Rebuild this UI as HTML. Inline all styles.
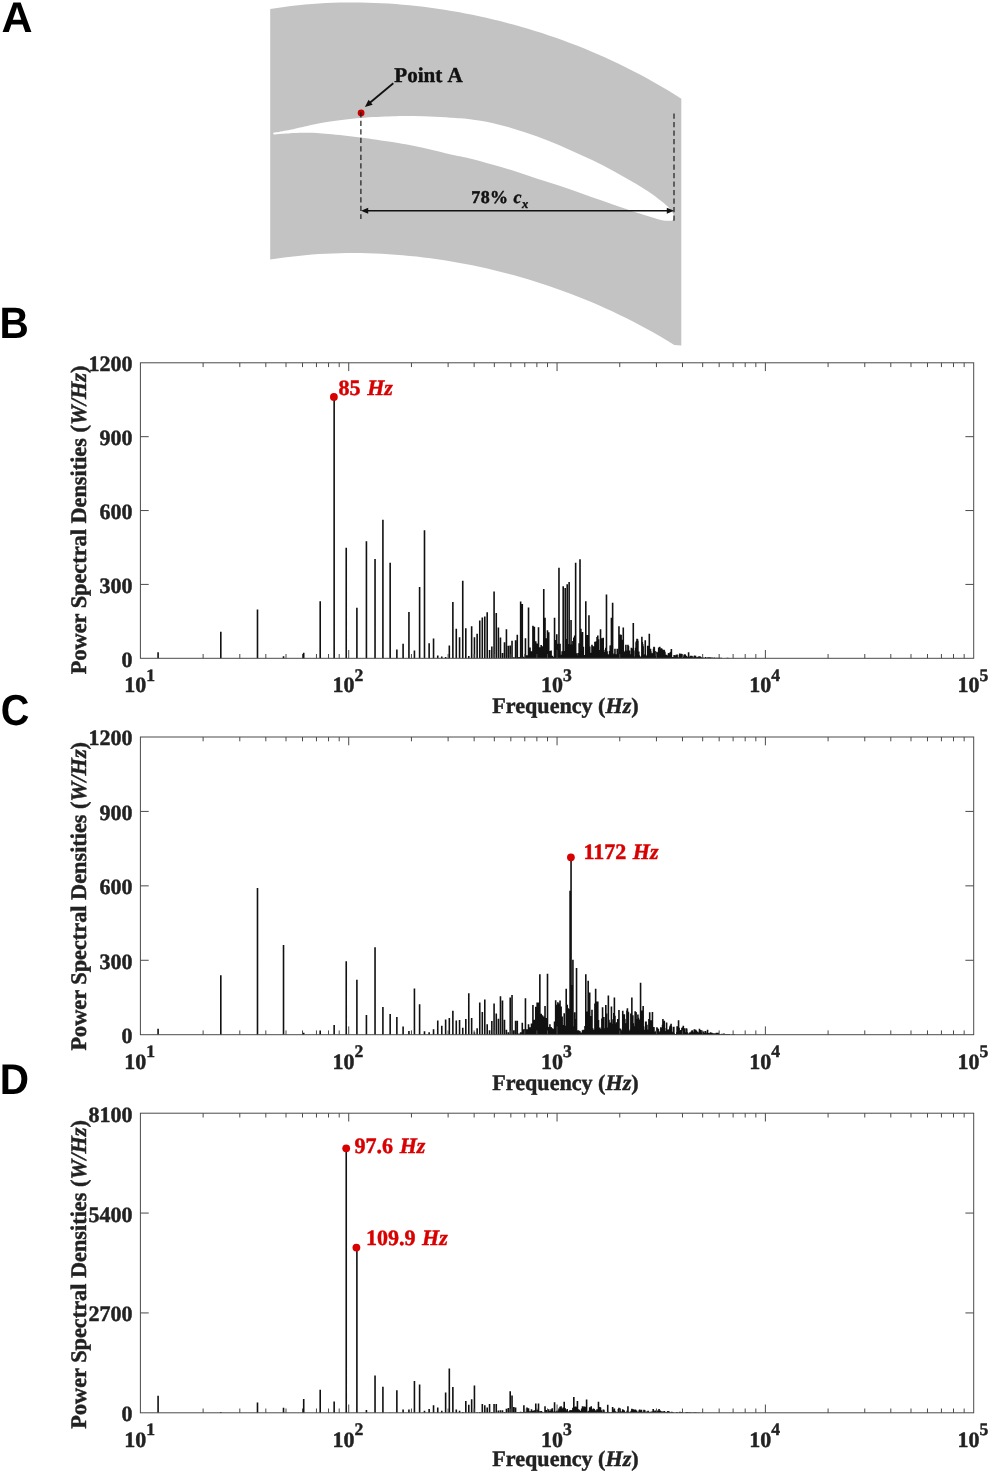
<!DOCTYPE html>
<html lang="en">
<head>
<meta charset="utf-8">
<title>Figure</title>
<style>
html,body{margin:0;padding:0;background:#fff;}
body{width:991px;height:1473px;overflow:hidden;}
svg{display:block;}
text{text-rendering:geometricPrecision;}
.s{font-family:"Liberation Serif","Times New Roman",Times,serif;font-weight:bold;stroke-width:0.45px;stroke-linejoin:round;}
.k{fill:#222;stroke:#222;}
.r{fill:#d80000;stroke:#d80000;}
.b{fill:#111;stroke:#111;}
.L{font-family:"Liberation Sans",Arial,Helvetica,sans-serif;font-weight:bold;fill:#000;}
</style>
</head>
<body>
<svg width="991" height="1473" viewBox="0 0 991 1473">
<rect width="991" height="1473" fill="#fff"/>
<text class="L" transform="translate(1.6 32.2)" font-size="43">A</text>
<path d="M270.2 9.0 L277.2 7.9 L284.1 7.0 L291.1 6.1 L298.1 5.3 L305.0 4.6 L312.0 4.0 L319.0 3.5 L325.9 3.1 L332.9 2.8 L339.9 2.6 L346.8 2.5 L353.8 2.5 L360.8 2.5 L367.7 2.7 L374.7 2.9 L381.7 3.2 L388.7 3.6 L395.6 4.1 L402.6 4.7 L409.6 5.3 L416.5 6.0 L423.5 6.8 L430.5 7.7 L437.4 8.7 L444.4 9.7 L451.4 10.9 L458.3 12.1 L465.3 13.4 L472.3 14.7 L479.2 16.2 L486.2 17.7 L493.2 19.4 L500.1 21.1 L507.1 22.9 L514.1 24.7 L521.0 26.7 L528.0 28.7 L535.0 30.9 L541.9 33.1 L548.9 35.4 L555.9 37.8 L562.8 40.3 L569.8 42.9 L576.8 45.6 L583.8 48.3 L590.7 51.2 L597.7 54.2 L604.7 57.3 L611.6 60.5 L618.6 63.8 L625.6 67.2 L632.5 70.7 L639.5 74.3 L646.5 78.1 L653.4 82.0 L660.4 86.0 L667.4 90.1 L674.3 94.3 L681.3 98.7 L681.3 345.5 L674.3 344.9 L667.4 340.7 L660.4 336.6 L653.4 332.6 L646.5 328.7 L639.5 324.9 L632.5 321.3 L625.6 317.8 L618.6 314.4 L611.6 311.1 L604.7 307.9 L597.7 304.8 L590.7 301.8 L583.8 298.9 L576.8 296.2 L569.8 293.5 L562.8 290.9 L555.9 288.4 L548.9 286.0 L541.9 283.7 L535.0 281.5 L528.0 279.3 L521.0 277.3 L514.1 275.3 L507.1 273.5 L500.1 271.7 L493.2 270.0 L486.2 268.3 L479.2 266.8 L472.3 265.3 L465.3 264.0 L458.3 262.7 L451.4 261.5 L444.4 260.3 L437.4 259.3 L430.5 258.3 L423.5 257.4 L416.5 256.6 L409.6 255.9 L402.6 255.3 L395.6 254.7 L388.7 254.2 L381.7 253.8 L374.7 253.5 L367.7 253.3 L360.8 253.1 L353.8 253.1 L346.8 253.1 L339.9 253.2 L332.9 253.4 L325.9 253.7 L319.0 254.1 L312.0 254.6 L305.0 255.2 L298.1 255.9 L291.1 256.7 L284.1 257.6 L277.2 258.5 L270.2 259.6 Z" fill="#c3c3c3"/>
<path d="M273.20 133.40C273.20 133.08 273.23 132.75 274.20 132.50C275.17 132.25 277.00 132.22 279.00 131.90C281.00 131.58 281.47 131.60 286.20 130.60C290.93 129.60 300.33 127.37 307.40 125.90C314.47 124.43 319.77 123.12 328.60 121.80C337.43 120.48 349.82 118.92 360.40 118.00C370.98 117.08 383.28 116.62 392.10 116.30C400.92 115.98 406.23 116.03 413.30 116.10C420.37 116.17 427.43 116.38 434.50 116.70C441.57 117.02 449.78 117.58 455.70 118.00C461.62 118.42 463.92 118.38 470.00 119.20C476.08 120.02 484.80 121.28 492.20 122.90C499.60 124.52 507.00 126.68 514.40 128.90C521.80 131.12 529.20 133.50 536.60 136.20C544.00 138.90 551.40 141.95 558.80 145.10C566.20 148.25 573.60 151.70 581.00 155.10C588.40 158.50 595.80 161.73 603.20 165.50C610.60 169.27 618.00 173.45 625.40 177.70C632.80 181.95 640.93 186.55 647.60 191.00C654.27 195.45 661.47 201.13 665.40 204.40C669.33 207.67 669.85 208.90 671.20 210.60C672.55 212.30 673.03 213.50 673.50 214.60C673.97 215.70 674.08 216.35 674.00 217.20C673.92 218.05 673.62 219.10 673.00 219.70C672.38 220.30 672.32 220.77 670.30 220.80C668.28 220.83 664.68 220.68 660.90 219.90C657.12 219.12 653.52 217.95 647.60 216.10C641.68 214.25 632.80 211.32 625.40 208.80C618.00 206.28 610.60 203.60 603.20 201.00C595.80 198.40 588.40 195.78 581.00 193.20C573.60 190.62 566.20 187.97 558.80 185.50C551.40 183.03 544.00 180.82 536.60 178.40C529.20 175.98 521.80 173.33 514.40 171.00C507.00 168.67 499.60 166.50 492.20 164.40C484.80 162.30 476.08 159.88 470.00 158.40C463.92 156.92 461.62 156.83 455.70 155.50C449.78 154.17 441.57 152.02 434.50 150.40C427.43 148.78 420.37 147.20 413.30 145.80C406.23 144.40 400.92 143.40 392.10 142.00C383.28 140.60 370.98 138.75 360.40 137.40C349.82 136.05 337.43 134.68 328.60 133.90C319.77 133.12 313.00 132.87 307.40 132.70C301.80 132.53 298.53 132.77 295.00 132.90C291.47 133.03 288.87 133.30 286.20 133.50C283.53 133.70 281.00 133.95 279.00 134.10C277.00 134.25 275.17 134.52 274.20 134.40C273.23 134.28 273.20 133.72 273.20 133.40Z" fill="#fff"/>
<circle cx="361.1" cy="112.9" r="3.4" fill="#c40000"/>
<path d="M360.9 112.2 V219 M674.0 113.4 V220.8" stroke="#1c1c1c" stroke-width="1.2" stroke-dasharray="5.3 3.2" fill="none"/>
<path d="M366 210.7 H669" stroke="#111" stroke-width="1.6" fill="none"/>
<path d="M361.0 210.7 l7.2 -3 v6 z M674.0 210.7 l-7.2 -3 v6 z" fill="#111"/>
<path d="M393.3 83.3 L369.9 102.8" stroke="#111" stroke-width="1.8" fill="none"/>
<path d="M364.9 107.0 L368.6 99.7 L372.7 104.7 Z" fill="#111"/>
<text class="s b" x="394.3" y="81.8" font-size="21.1" word-spacing="1.1">Point A</text>
<text class="s b" x="471.2" y="203.3" font-size="18" letter-spacing="0.45">78% <tspan font-style="italic">c</tspan><tspan font-style="italic" font-size="12.5" dy="4.6">x</tspan></text>
<path d="M158.09 658.30V652.14M220.81 658.30V631.70M257.49 658.30V609.54M283.52 658.30V656.33M303.71 658.30V652.64M320.20 658.30V601.17M334.15 658.30V396.54M346.23 658.30V547.73M356.89 658.30V607.82M366.42 658.30V541.33M375.04 658.30V559.06M382.91 658.30V519.66M390.16 658.30V562.75M396.86 658.30V649.43M403.10 658.30V643.77M408.94 658.30V612.00M414.43 658.30V650.42M419.60 658.30V586.89M424.49 658.30V530.25M429.13 658.30V643.28M433.54 658.30V638.60M437.75 658.30V655.59M441.77 658.30V656.58M445.63 658.30V657.07M449.32 658.30V645.50M452.87 658.30V601.91M456.28 658.30V628.75M459.57 658.30V637.37M462.75 658.30V580.73M465.81 658.30V628.26M468.78 658.30V656.08M471.65 658.30V626.29M474.44 658.30V637.37M477.14 658.30V633.67M479.76 658.30V620.62M482.31 658.30V617.42M484.79 658.30V616.44M487.20 658.30V612.25M489.55 658.30V649.93M491.84 658.30V646.48M494.08 658.30V591.57M496.26 658.30V612.99M498.39 658.30V627.52M500.47 658.30V637.62M502.50 658.30V652.88M504.49 658.30V642.29M506.43 658.30V629.24M508.34 658.30V645.74M510.20 658.30V645.50M512.03 658.30V640.82M513.82 658.30V657.31M515.58 658.30V640.32M517.30 658.30V634.66M518.99 658.30V657.07M520.65 658.30V601.42M522.28 658.30V604.12M523.89 658.30V656.82M525.46 658.30V638.35M527.01 658.30V655.28M528.53 658.30V607.57M530.02 658.30V647.59M531.49 658.30V651.36M532.94 658.30V625.79M534.37 658.30V626.78M535.77 658.30V641.30M537.15 658.30V643.50M538.51 658.30V627.27M539.85 658.30V647.32M541.17 658.30V645.07M542.47 658.30V646.13M543.76 658.30V589.10M545.02 658.30V617.67M546.27 658.30V638.31M547.50 658.30V630.23M548.72 658.30V632.14M549.91 658.30V650.96M551.10 658.30V650.52M552.26 658.30V655.81M553.42 658.30V656.66M554.55 658.30V617.67M555.68 658.30V639.90M556.79 658.30V634.20M557.88 658.30V643.75M558.97 658.30V567.68M560.04 658.30V643.63M561.10 658.30V654.65M562.14 658.30V651.29M563.18 658.30V586.15M564.20 658.30V651.09M565.21 658.30V588.12M566.21 658.30V639.02M567.20 658.30V584.18M568.18 658.30V644.06M569.14 658.30V581.96M570.10 658.30V644.48M571.05 658.30V619.88M571.99 658.30V644.59M572.92 658.30V640.95M573.83 658.30V637.43M574.74 658.30V635.50M575.64 658.30V562.75M576.53 658.30V653.27M577.42 658.30V655.61M578.29 658.30V653.03M579.16 658.30V643.31M580.01 658.30V559.31M580.86 658.30V628.82M581.71 658.30V634.25M582.54 658.30V631.91M583.37 658.30V646.79M584.18 658.30V654.90M585.00 658.30V655.18M585.80 658.30V601.17M586.60 658.30V652.59M587.39 658.30V635.01M588.17 658.30V636.52M588.95 658.30V615.21M589.72 658.30V646.56M590.48 658.30V652.70M591.24 658.30V655.34M591.99 658.30V644.78M592.73 658.30V647.75M593.47 658.30V646.14M594.21 658.30V650.95M594.93 658.30V641.85M595.65 658.30V648.28M596.37 658.30V641.23M597.08 658.30V637.11M597.78 658.30V635.41M598.48 658.30V639.28M599.17 658.30V652.88M599.86 658.30V650.10M600.54 658.30V629.24M601.22 658.30V643.27M601.89 658.30V638.19M602.56 658.30V649.37M603.23 658.30V637.77M603.88 658.30V651.98M604.54 658.30V656.06M605.19 658.30V649.79M605.83 658.30V647.83M606.47 658.30V594.52M607.10 658.30V651.24M607.73 658.30V654.04M608.36 658.30V654.63M608.98 658.30V655.09M609.60 658.30V651.04M610.21 658.30V645.46M610.82 658.30V645.20M611.43 658.30V617.67M612.03 658.30V652.30M612.63 658.30V602.65M613.22 658.30V654.39M613.81 658.30V655.36M614.39 658.30V653.44M614.98 658.30V648.64M615.55 658.30V654.44M616.13 658.30V654.17M616.70 658.30V656.26M617.27 658.30V648.78M617.83 658.30V654.17M618.39 658.30V653.48M618.95 658.30V626.29M619.50 658.30V649.44M620.05 658.30V635.45M620.60 658.30V634.58M621.14 658.30V634.89M621.68 658.30V648.85M622.22 658.30V640.88M622.75 658.30V639.80M623.28 658.30V627.52M623.81 658.30V652.52M624.33 658.30V651.82M624.86 658.30V654.56M625.37 658.30V650.79M625.89 658.30V644.68M626.40 658.30V650.58M626.91 658.30V656.21M627.42 658.30V656.37M627.92 658.30V644.64M628.42 658.30V645.97M628.92 658.30V653.93M629.42 658.30V650.43M629.91 658.30V654.24M630.40 658.30V656.35M630.89 658.30V657.01M631.37 658.30V647.78M631.86 658.30V648.54M632.34 658.30V653.88M632.81 658.30V654.38M633.29 658.30V623.09M633.76 658.30V657.03M634.23 658.30V656.41M634.70 658.30V657.18M635.16 658.30V650.56M635.63 658.30V647.83M636.09 658.30V642.18M636.55 658.30V641.06M637.00 658.30V638.77M637.46 658.30V638.96M637.91 658.30V640.85M638.36 658.30V652.09M638.80 658.30V651.61M639.25 658.30V655.15M639.69 658.30V656.66M640.13 658.30V656.55M640.57 658.30V657.09M641.00 658.30V656.46M641.44 658.30V657.24M641.87 658.30V636.63M642.30 658.30V642.04M642.73 658.30V644.09M643.15 658.30V646.24M643.58 658.30V656.65M644.00 658.30V655.40M644.42 658.30V655.36M644.84 658.30V654.26M645.25 658.30V640.32M645.67 658.30V656.70M646.08 658.30V656.38M646.49 658.30V656.95M646.90 658.30V655.78M647.30 658.30V654.79M647.71 658.30V645.72M648.11 658.30V653.41M648.51 658.30V654.91M648.91 658.30V652.67M649.31 658.30V633.67M649.71 658.30V649.73M650.10 658.30V652.27M650.49 658.30V648.71M650.88 658.30V651.19M651.27 658.30V653.22M651.66 658.30V656.37M652.05 658.30V655.81M652.43 658.30V654.14M652.81 658.30V653.32M653.19 658.30V652.65M653.57 658.30V648.76M653.95 658.30V646.64M654.33 658.30V647.30M654.70 658.30V654.62M655.07 658.30V651.02M655.45 658.30V656.85M655.82 658.30V656.78M656.18 658.30V656.97M656.55 658.30V656.05M656.92 658.30V651.79M657.28 658.30V656.31M657.64 658.30V655.91M658.01 658.30V655.91M658.36 658.30V652.75M658.72 658.30V647.47M659.08 658.30V650.52M659.44 658.30V654.20M659.79 658.30V646.73M660.14 658.30V655.95M660.49 658.30V652.45M660.84 658.30V650.33M661.19 658.30V648.84M661.54 658.30V648.26M661.89 658.30V648.90M662.23 658.30V652.52M662.57 658.30V655.29M662.92 658.30V656.29M663.26 658.30V649.74M663.60 658.30V654.79M663.93 658.30V649.86M664.27 658.30V650.30M664.61 658.30V651.61M664.94 658.30V652.30M665.27 658.30V656.96M665.61 658.30V655.30M665.94 658.30V656.71M666.27 658.30V654.82M666.60 658.30V654.84M666.92 658.30V657.61M667.25 658.30V656.10M667.57 658.30V657.16M667.90 658.30V657.80M668.22 658.30V655.57M668.54 658.30V653.06M668.86 658.30V655.35M669.18 658.30V654.51M669.50 658.30V653.20M669.82 658.30V656.71M670.13 658.30V653.41M670.45 658.30V652.12M670.76 658.30V652.54M671.07 658.30V651.71M671.38 658.30V648.94M671.69 658.30V656.96M672.00 658.30V656.97M672.31 658.30V657.37M672.62 658.30V657.09M672.92 658.30V657.59M673.23 658.30V657.65M673.53 658.30V657.72M673.84 658.30V657.47M674.14 658.30V655.12M674.44 658.30V657.00M674.74 658.30V656.96M675.04 658.30V656.13M675.34 658.30V657.43M675.63 658.30V657.46M675.93 658.30V655.20M676.23 658.30V654.80M676.52 658.30V655.46M676.81 658.30V654.69M677.11 658.30V654.46M677.40 658.30V657.29M677.69 658.30V657.59M677.98 658.30V657.73M678.27 658.30V657.76M678.84 658.30V657.80M679.13 658.30V657.20M679.41 658.30V654.99M679.70 658.30V653.54M679.98 658.30V653.76M680.26 658.30V657.29M680.54 658.30V657.73M680.82 658.30V657.30M681.10 658.30V656.69M681.38 658.30V653.86M681.66 658.30V654.18M681.94 658.30V654.77M682.21 658.30V655.26M682.49 658.30V657.82M683.31 658.30V657.89M683.58 658.30V657.10M683.85 658.30V656.62M684.12 658.30V654.71M684.39 658.30V655.37M684.66 658.30V654.30M684.93 658.30V655.62M685.20 658.30V654.47M685.46 658.30V657.33M685.73 658.30V657.14M685.99 658.30V657.05M686.26 658.30V655.81M686.52 658.30V657.23M686.78 658.30V657.54M687.05 658.30V657.83M687.31 658.30V657.94M687.57 658.30V656.82M687.83 658.30V657.08M688.09 658.30V657.31M688.34 658.30V656.39M688.60 658.30V652.14M688.86 658.30V657.11M689.11 658.30V657.65M689.37 658.30V656.67M689.62 658.30V657.49M689.88 658.30V657.61M690.13 658.30V656.79M690.38 658.30V656.88M690.63 658.30V655.84M690.89 658.30V655.69M691.14 658.30V655.88M691.39 658.30V656.54M691.63 658.30V655.73M691.88 658.30V656.47M692.13 658.30V656.36M692.38 658.30V657.60M692.62 658.30V657.79M692.87 658.30V657.71M693.11 658.30V657.92M693.84 658.30V657.45M694.09 658.30V656.49M694.33 658.30V656.26M694.57 658.30V655.59M694.81 658.30V656.88M695.05 658.30V656.42M695.29 658.30V655.69M695.53 658.30V655.64M695.76 658.30V657.10M696.00 658.30V657.74M696.24 658.30V657.85M696.47 658.30V657.89M696.71 658.30V657.86M696.94 658.30V657.24M697.41 658.30V657.69M697.64 658.30V657.91M697.88 658.30V657.26M698.11 658.30V657.10M698.34 658.30V656.83M698.57 658.30V656.56M698.80 658.30V656.52M699.03 658.30V656.49M699.26 658.30V656.71M699.49 658.30V656.30M699.71 658.30V656.59M699.94 658.30V657.44M700.17 658.30V656.51M700.39 658.30V656.63M700.62 658.30V657.71M700.84 658.30V657.74M701.07 658.30V657.28M701.29 658.30V657.88M701.51 658.30V657.51M701.74 658.30V657.49M701.96 658.30V657.84M702.84 658.30V657.88M703.06 658.30V657.58M704.15 658.30V657.91M704.37 658.30V657.85M705.44 658.30V657.71M705.65 658.30V657.01M705.86 658.30V657.68M707.96 658.30V657.29M708.17 658.30V657.28M708.38 658.30V657.80M709.61 658.30V657.57M709.81 658.30V657.18M710.02 658.30V657.57M710.22 658.30V657.56M710.42 658.30V657.74M710.62 658.30V657.77M710.82 658.30V657.77M711.02 658.30V657.46M711.22 658.30V657.89M711.62 658.30V657.89M711.82 658.30V657.73M712.02 658.30V657.45M712.22 658.30V657.66M712.42 658.30V657.95M714.18 658.30V657.46M714.57 658.30V657.74M714.76 658.30V657.80M714.95 658.30V657.93M715.72 658.30V657.86M715.91 658.30V657.87M717.23 658.30V657.87M717.79 658.30V657.75M717.97 658.30V657.85M718.16 658.30V657.86M718.53 658.30V657.76M718.71 658.30V657.89M718.90 658.30V657.80M719.08 658.30V657.81M719.45 658.30V657.79M720.36 658.30V657.92M721.26 658.30V657.79M727.32 658.30V657.93M727.49 658.30V657.87M727.65 658.30V657.87M727.82 658.30V657.92M727.99 658.30V657.88M728.15 658.30V657.94" stroke="#111" stroke-width="1.6" fill="none"/>
<rect x="140.4" y="362.8" width="833.3" height="295.5" fill="none" stroke="#4a4a4a" stroke-width="1"/>
<path d="M203.11 658.30v-4.30M203.11 362.80v4.30M239.80 658.30v-4.30M239.80 362.80v4.30M265.82 658.30v-4.30M265.82 362.80v4.30M286.01 658.30v-4.30M286.01 362.80v4.30M302.51 658.30v-4.30M302.51 362.80v4.30M316.46 658.30v-4.30M316.46 362.80v4.30M328.54 658.30v-4.30M328.54 362.80v4.30M339.19 658.30v-4.30M339.19 362.80v4.30M348.73 658.30v-8.30M348.73 362.80v8.30M411.44 658.30v-4.30M411.44 362.80v4.30M448.12 658.30v-4.30M448.12 362.80v4.30M474.15 658.30v-4.30M474.15 362.80v4.30M494.34 658.30v-4.30M494.34 362.80v4.30M510.83 658.30v-4.30M510.83 362.80v4.30M524.78 658.30v-4.30M524.78 362.80v4.30M536.86 658.30v-4.30M536.86 362.80v4.30M547.52 658.30v-4.30M547.52 362.80v4.30M557.05 658.30v-8.30M557.05 362.80v8.30M619.76 658.30v-4.30M619.76 362.80v4.30M656.45 658.30v-4.30M656.45 362.80v4.30M682.47 658.30v-4.30M682.47 362.80v4.30M702.66 658.30v-4.30M702.66 362.80v4.30M719.16 658.30v-4.30M719.16 362.80v4.30M733.11 658.30v-4.30M733.11 362.80v4.30M745.19 658.30v-4.30M745.19 362.80v4.30M755.84 658.30v-4.30M755.84 362.80v4.30M765.38 658.30v-8.30M765.38 362.80v8.30M828.09 658.30v-4.30M828.09 362.80v4.30M864.77 658.30v-4.30M864.77 362.80v4.30M890.80 658.30v-4.30M890.80 362.80v4.30M910.99 658.30v-4.30M910.99 362.80v4.30M927.48 658.30v-4.30M927.48 362.80v4.30M941.43 658.30v-4.30M941.43 362.80v4.30M953.51 658.30v-4.30M953.51 362.80v4.30M964.17 658.30v-4.30M964.17 362.80v4.30M140.40 584.42h8.3M973.70 584.42h-8.3M140.40 510.55h8.3M973.70 510.55h-8.3M140.40 436.68h8.3M973.70 436.68h-8.3" stroke="#4a4a4a" stroke-width="1" fill="none"/>
<text class="s k" x="132.6" y="666.7" text-anchor="end" font-size="22">0</text>
<text class="s k" x="132.6" y="592.8" text-anchor="end" font-size="22">300</text>
<text class="s k" x="132.6" y="518.9" text-anchor="end" font-size="22">600</text>
<text class="s k" x="132.6" y="445.1" text-anchor="end" font-size="22">900</text>
<text class="s k" x="132.6" y="371.2" text-anchor="end" font-size="22">1200</text>
<text class="s k" x="124.2" y="692.4" font-size="22">10<tspan font-size="17.6" dy="-11.5">1</tspan></text>
<text class="s k" x="332.5" y="692.4" font-size="22">10<tspan font-size="17.6" dy="-11.5">2</tspan></text>
<text class="s k" x="540.9" y="692.4" font-size="22">10<tspan font-size="17.6" dy="-11.5">3</tspan></text>
<text class="s k" x="749.2" y="692.4" font-size="22">10<tspan font-size="17.6" dy="-11.5">4</tspan></text>
<text class="s k" x="957.5" y="692.4" font-size="22">10<tspan font-size="17.6" dy="-11.5">5</tspan></text>
<text class="s k" x="565.5" y="713.3" text-anchor="middle" font-size="22.1">Frequency (<tspan font-style="italic">Hz</tspan>)</text>
<text class="s k" transform="translate(85.8 674.2) rotate(-90)" font-size="22.3">Power Spectral Densities (<tspan font-style="italic">W/Hz</tspan>)</text>
<circle cx="333.9" cy="396.9" r="3.9" fill="#d80000"/>
<text class="s r" x="338.6" y="394.5" font-size="22" word-spacing="1.1">85 <tspan font-style="italic">Hz</tspan></text>
<text class="L" transform="translate(-0.60 338.0) scale(0.922 1)" font-size="44.0">B</text>
<path d="M158.09 1034.70V1028.75M220.81 1034.70V975.16M257.49 1034.70V888.08M283.52 1034.70V944.89M303.71 1034.70V1032.72M320.20 1034.70V1030.48M334.15 1034.70V1025.02M346.23 1034.70V961.27M356.89 1034.70V979.63M366.42 1034.70V1015.10M375.04 1034.70V947.37M382.91 1034.70V1006.91M390.16 1034.70V1014.11M396.86 1034.70V1017.09M403.10 1034.70V1026.51M408.94 1034.70V1030.98M414.43 1034.70V988.56M419.60 1034.70V1004.19M424.49 1034.70V1031.23M429.13 1034.70V1032.22M433.54 1034.70V1029.24M437.75 1034.70V1020.56M441.77 1034.70V1025.77M445.63 1034.70V1019.57M449.32 1034.70V1018.08M452.87 1034.70V1010.64M456.28 1034.70V1020.56M459.57 1034.70V1020.06M462.75 1034.70V1027.75M465.81 1034.70V1019.07M468.78 1034.70V993.27M471.65 1034.70V1018.08M474.44 1034.70V1032.22M477.14 1034.70V1028.25M479.76 1034.70V1002.45M482.31 1034.70V1012.12M484.79 1034.70V999.47M487.20 1034.70V1024.28M489.55 1034.70V1030.23M491.84 1034.70V1021.06M494.08 1034.70V1003.44M496.26 1034.70V1013.61M498.39 1034.70V1018.82M500.47 1034.70V996.25M502.50 1034.70V1000.46M504.49 1034.70V1019.82M506.43 1034.70V1029.74M508.34 1034.70V1032.22M510.20 1034.70V997.49M512.03 1034.70V995.01M513.82 1034.70V1030.23M515.58 1034.70V1020.81M517.30 1034.70V1020.81M518.99 1034.70V1033.46M520.65 1034.70V1032.22M522.28 1034.70V1022.79M523.89 1034.70V1029.24M525.46 1034.70V998.23M527.01 1034.70V1029.24M528.53 1034.70V1024.28M530.02 1034.70V1027.26M531.49 1034.70V1023.54M532.94 1034.70V1004.93M534.37 1034.70V1019.82M535.77 1034.70V1006.67M537.15 1034.70V1002.48M538.51 1034.70V1002.61M539.85 1034.70V974.17M541.17 1034.70V1013.63M542.47 1034.70V1015.27M543.76 1034.70V1016.61M545.02 1034.70V1005.97M546.27 1034.70V1017.94M547.50 1034.70V973.67M548.72 1034.70V1026.92M549.91 1034.70V1024.20M551.10 1034.70V1027.09M552.26 1034.70V1028.33M553.42 1034.70V1028.82M554.55 1034.70V1021.42M555.68 1034.70V1000.20M556.79 1034.70V1004.68M557.88 1034.70V1002.24M558.97 1034.70V1003.53M560.04 1034.70V1000.46M561.10 1034.70V1006.56M562.14 1034.70V1016.45M563.18 1034.70V1024.92M564.20 1034.70V1013.23M565.21 1034.70V1025.66M566.21 1034.70V988.80M567.20 1034.70V1004.69M568.18 1034.70V1008.22M569.14 1034.70V1008.89M570.10 1034.70V890.81M571.05 1034.70V857.57M571.99 1034.70V985.08M572.92 1034.70V959.78M573.83 1034.70V1026.35M574.74 1034.70V1012.27M575.64 1034.70V1019.00M576.53 1034.70V967.97M577.42 1034.70V1030.52M578.29 1034.70V1030.17M579.16 1034.70V1030.76M580.01 1034.70V1031.19M580.86 1034.70V1032.95M581.71 1034.70V1032.38M582.54 1034.70V1030.27M583.37 1034.70V1029.83M584.18 1034.70V1030.24M585.00 1034.70V1025.96M585.80 1034.70V974.17M586.60 1034.70V1023.47M587.39 1034.70V1011.46M588.17 1034.70V980.87M588.95 1034.70V1028.80M589.72 1034.70V992.53M590.48 1034.70V1017.57M591.24 1034.70V1015.90M591.99 1034.70V1009.64M592.73 1034.70V1028.32M593.47 1034.70V1029.82M594.21 1034.70V1030.62M594.93 1034.70V1003.57M595.65 1034.70V988.80M596.37 1034.70V1001.55M597.08 1034.70V1018.24M597.78 1034.70V1001.46M598.48 1034.70V1020.10M599.17 1034.70V1030.24M599.86 1034.70V1027.47M600.54 1034.70V1031.25M601.22 1034.70V1029.12M601.89 1034.70V1018.41M602.56 1034.70V1007.18M603.23 1034.70V1023.94M603.88 1034.70V1016.90M604.54 1034.70V1028.37M605.19 1034.70V1030.81M605.83 1034.70V1004.98M606.47 1034.70V1013.53M607.10 1034.70V1027.45M607.73 1034.70V1030.46M608.36 1034.70V995.50M608.98 1034.70V1019.81M609.60 1034.70V1028.52M610.21 1034.70V1022.40M610.82 1034.70V1023.58M611.43 1034.70V1006.48M612.03 1034.70V1023.77M612.63 1034.70V1026.17M613.22 1034.70V1019.28M613.81 1034.70V1012.91M614.39 1034.70V997.49M614.98 1034.70V1015.81M615.55 1034.70V1023.68M616.13 1034.70V1026.31M616.70 1034.70V1022.14M617.27 1034.70V1022.18M617.83 1034.70V1019.04M618.39 1034.70V1028.10M618.95 1034.70V1009.89M619.50 1034.70V1029.02M620.05 1034.70V1028.52M620.60 1034.70V1028.81M621.14 1034.70V1031.12M621.68 1034.70V1030.32M622.22 1034.70V1032.43M622.75 1034.70V1010.64M623.28 1034.70V1031.62M623.81 1034.70V1027.67M624.33 1034.70V1014.22M624.86 1034.70V1018.90M625.37 1034.70V1029.61M625.89 1034.70V1023.19M626.40 1034.70V1029.24M626.91 1034.70V1010.58M627.42 1034.70V1008.16M627.92 1034.70V1011.50M628.42 1034.70V1012.13M628.92 1034.70V1030.99M629.42 1034.70V1030.78M629.91 1034.70V1030.69M630.40 1034.70V1029.42M630.89 1034.70V1013.57M631.37 1034.70V1021.81M631.86 1034.70V997.49M632.34 1034.70V1018.66M632.81 1034.70V1015.33M633.29 1034.70V1023.33M633.76 1034.70V1032.71M634.23 1034.70V1028.81M634.70 1034.70V1026.34M635.16 1034.70V1011.30M635.63 1034.70V1012.08M636.09 1034.70V1012.16M636.55 1034.70V1022.92M637.00 1034.70V1019.30M637.46 1034.70V1028.97M637.91 1034.70V1014.52M638.36 1034.70V1017.77M638.80 1034.70V1020.05M639.25 1034.70V1019.38M639.69 1034.70V1032.46M640.13 1034.70V1032.30M640.57 1034.70V982.85M641.00 1034.70V1028.88M641.44 1034.70V1016.06M641.87 1034.70V1010.40M642.30 1034.70V1015.99M642.73 1034.70V1015.77M643.15 1034.70V1005.92M643.58 1034.70V1026.45M644.00 1034.70V1029.71M644.42 1034.70V1032.73M644.84 1034.70V1029.91M645.25 1034.70V1030.31M645.67 1034.70V1021.61M646.08 1034.70V1021.57M646.49 1034.70V1028.91M646.90 1034.70V1024.82M647.30 1034.70V1029.54M647.71 1034.70V1031.60M648.11 1034.70V1030.89M648.51 1034.70V1033.26M648.91 1034.70V1018.95M649.31 1034.70V1027.60M649.71 1034.70V1012.37M650.10 1034.70V1023.47M650.49 1034.70V1022.90M650.88 1034.70V1020.15M651.27 1034.70V1021.71M651.66 1034.70V1020.15M652.05 1034.70V1026.48M652.43 1034.70V1012.12M652.81 1034.70V1031.77M653.19 1034.70V1032.94M653.57 1034.70V1027.01M653.95 1034.70V1027.37M654.33 1034.70V1031.82M654.70 1034.70V1033.19M655.07 1034.70V1033.48M655.45 1034.70V1031.65M655.82 1034.70V1032.99M656.18 1034.70V1030.94M656.55 1034.70V1030.47M656.92 1034.70V1027.33M657.28 1034.70V1028.27M657.64 1034.70V1029.93M658.01 1034.70V1032.47M658.36 1034.70V1028.84M658.72 1034.70V1032.37M659.08 1034.70V1033.16M659.44 1034.70V1033.76M659.79 1034.70V1034.02M660.14 1034.70V1031.39M660.49 1034.70V1030.98M660.84 1034.70V1027.32M661.19 1034.70V1032.93M661.54 1034.70V1030.57M661.89 1034.70V1030.75M662.23 1034.70V1027.93M662.57 1034.70V1024.76M662.92 1034.70V1019.07M663.26 1034.70V1023.62M663.60 1034.70V1031.55M663.93 1034.70V1025.23M664.27 1034.70V1020.87M664.61 1034.70V1027.89M664.94 1034.70V1032.58M665.27 1034.70V1033.79M665.61 1034.70V1032.02M665.94 1034.70V1031.52M666.27 1034.70V1030.88M666.60 1034.70V1022.56M666.92 1034.70V1029.47M667.25 1034.70V1031.12M667.57 1034.70V1029.42M667.90 1034.70V1032.89M668.22 1034.70V1033.30M668.54 1034.70V1033.25M668.86 1034.70V1031.69M669.18 1034.70V1029.17M669.50 1034.70V1031.69M669.82 1034.70V1027.24M670.13 1034.70V1025.71M670.45 1034.70V1029.10M670.76 1034.70V1025.21M671.07 1034.70V1023.80M671.38 1034.70V1026.33M671.69 1034.70V1032.34M672.00 1034.70V1033.38M672.31 1034.70V1032.78M672.62 1034.70V1033.59M672.92 1034.70V1033.36M673.23 1034.70V1031.42M673.53 1034.70V1027.35M673.84 1034.70V1026.86M674.14 1034.70V1033.13M674.44 1034.70V1033.99M674.74 1034.70V1034.06M675.04 1034.70V1033.90M675.34 1034.70V1034.25M675.63 1034.70V1034.30M675.93 1034.70V1034.16M676.23 1034.70V1034.14M676.52 1034.70V1033.93M676.81 1034.70V1032.30M677.11 1034.70V1026.35M677.40 1034.70V1028.65M677.69 1034.70V1033.29M677.98 1034.70V1034.19M678.27 1034.70V1033.22M678.55 1034.70V1020.31M678.84 1034.70V1027.45M679.13 1034.70V1027.88M679.41 1034.70V1031.26M679.70 1034.70V1033.70M679.98 1034.70V1032.87M680.26 1034.70V1031.95M680.54 1034.70V1033.31M680.82 1034.70V1029.93M681.10 1034.70V1033.70M681.38 1034.70V1034.07M681.66 1034.70V1034.10M681.94 1034.70V1027.91M682.21 1034.70V1030.59M682.49 1034.70V1027.29M682.76 1034.70V1032.67M683.04 1034.70V1030.62M683.31 1034.70V1025.77M683.58 1034.70V1033.98M683.85 1034.70V1033.55M684.12 1034.70V1028.75M684.39 1034.70V1028.31M684.66 1034.70V1028.36M684.93 1034.70V1032.28M685.20 1034.70V1032.90M685.46 1034.70V1033.86M685.73 1034.70V1032.61M685.99 1034.70V1033.79M686.26 1034.70V1032.54M686.52 1034.70V1028.35M686.78 1034.70V1029.31M687.05 1034.70V1032.17M687.31 1034.70V1032.16M687.57 1034.70V1033.33M687.83 1034.70V1033.51M688.09 1034.70V1033.70M688.34 1034.70V1033.96M688.60 1034.70V1034.27M688.86 1034.70V1034.30M689.11 1034.70V1033.45M689.37 1034.70V1033.55M689.62 1034.70V1032.86M689.88 1034.70V1032.83M690.13 1034.70V1032.32M690.38 1034.70V1033.53M690.63 1034.70V1033.51M690.89 1034.70V1033.68M691.14 1034.70V1032.91M691.39 1034.70V1031.26M691.63 1034.70V1031.84M691.88 1034.70V1031.13M692.13 1034.70V1030.26M692.38 1034.70V1030.50M692.62 1034.70V1033.12M692.87 1034.70V1032.62M693.11 1034.70V1033.71M693.36 1034.70V1034.23M693.60 1034.70V1033.99M693.84 1034.70V1033.42M694.09 1034.70V1031.90M694.33 1034.70V1029.32M694.57 1034.70V1030.72M694.81 1034.70V1029.43M695.05 1034.70V1031.32M695.29 1034.70V1033.47M695.53 1034.70V1031.53M695.76 1034.70V1029.68M696.00 1034.70V1031.99M696.24 1034.70V1030.78M696.47 1034.70V1030.79M696.71 1034.70V1034.28M696.94 1034.70V1033.89M697.18 1034.70V1032.79M697.41 1034.70V1034.05M697.64 1034.70V1031.70M697.88 1034.70V1032.67M698.11 1034.70V1033.51M698.34 1034.70V1032.68M698.57 1034.70V1033.90M698.80 1034.70V1033.85M699.03 1034.70V1033.20M699.26 1034.70V1033.09M699.49 1034.70V1028.75M699.71 1034.70V1033.84M699.94 1034.70V1033.76M700.17 1034.70V1033.83M700.39 1034.70V1032.11M700.62 1034.70V1031.30M700.84 1034.70V1030.11M701.07 1034.70V1030.56M701.29 1034.70V1034.02M701.51 1034.70V1033.91M701.74 1034.70V1032.42M701.96 1034.70V1034.09M702.18 1034.70V1033.45M702.62 1034.70V1034.34M702.84 1034.70V1033.97M703.06 1034.70V1031.92M703.28 1034.70V1031.38M703.50 1034.70V1032.70M703.72 1034.70V1034.24M704.15 1034.70V1033.90M704.37 1034.70V1034.21M704.58 1034.70V1034.19M704.80 1034.70V1033.99M705.01 1034.70V1032.91M705.23 1034.70V1031.06M705.44 1034.70V1031.88M705.65 1034.70V1031.62M705.86 1034.70V1033.11M706.08 1034.70V1033.81M706.50 1034.70V1033.96M707.13 1034.70V1034.14M707.34 1034.70V1034.31M707.55 1034.70V1029.74M707.76 1034.70V1034.01M707.96 1034.70V1034.02M708.17 1034.70V1034.16M708.38 1034.70V1033.04M708.58 1034.70V1033.21M708.79 1034.70V1033.46M709.00 1034.70V1033.69M709.41 1034.70V1034.25M709.81 1034.70V1034.25M710.02 1034.70V1034.14M710.22 1034.70V1032.82M710.42 1034.70V1033.36M710.62 1034.70V1032.33M710.82 1034.70V1033.37M711.22 1034.70V1034.34M711.42 1034.70V1033.14M711.62 1034.70V1033.12M711.82 1034.70V1032.66M712.02 1034.70V1032.98M712.22 1034.70V1033.49M712.42 1034.70V1033.54M712.62 1034.70V1033.98M712.81 1034.70V1034.16M713.60 1034.70V1034.23M713.79 1034.70V1033.30M713.98 1034.70V1033.18M714.18 1034.70V1034.13M714.37 1034.70V1033.76M714.57 1034.70V1033.83M715.14 1034.70V1034.04M715.33 1034.70V1034.16M715.52 1034.70V1033.43M715.72 1034.70V1034.32M715.91 1034.70V1033.79M716.10 1034.70V1033.45M716.28 1034.70V1033.11M716.47 1034.70V1032.69M716.66 1034.70V1033.24M716.85 1034.70V1034.33M717.60 1034.70V1034.34M717.79 1034.70V1033.54M717.97 1034.70V1032.67M718.16 1034.70V1032.98M718.34 1034.70V1032.86M718.53 1034.70V1034.24M719.26 1034.70V1034.21M719.45 1034.70V1033.92M719.63 1034.70V1034.11M720.17 1034.70V1034.22M720.72 1034.70V1034.31M720.90 1034.70V1034.19M721.44 1034.70V1034.29M721.61 1034.70V1034.22M721.79 1034.70V1033.97M721.97 1034.70V1033.77M722.15 1034.70V1034.11M723.56 1034.70V1034.29M723.73 1034.70V1033.92M723.90 1034.70V1033.44M724.08 1034.70V1033.59M724.25 1034.70V1034.09M725.11 1034.70V1034.08M726.81 1034.70V1034.06M727.32 1034.70V1034.12M728.81 1034.70V1034.31M728.98 1034.70V1033.99M729.14 1034.70V1034.11M732.37 1034.70V1034.21M732.53 1034.70V1034.22M732.69 1034.70V1034.18M733.94 1034.70V1034.21M734.10 1034.70V1034.28M734.25 1034.70V1034.22" stroke="#111" stroke-width="1.6" fill="none"/>
<rect x="140.4" y="737.0" width="833.3" height="297.7" fill="none" stroke="#4a4a4a" stroke-width="1"/>
<path d="M203.11 1034.70v-4.30M203.11 737.00v4.30M239.80 1034.70v-4.30M239.80 737.00v4.30M265.82 1034.70v-4.30M265.82 737.00v4.30M286.01 1034.70v-4.30M286.01 737.00v4.30M302.51 1034.70v-4.30M302.51 737.00v4.30M316.46 1034.70v-4.30M316.46 737.00v4.30M328.54 1034.70v-4.30M328.54 737.00v4.30M339.19 1034.70v-4.30M339.19 737.00v4.30M348.73 1034.70v-8.30M348.73 737.00v8.30M411.44 1034.70v-4.30M411.44 737.00v4.30M448.12 1034.70v-4.30M448.12 737.00v4.30M474.15 1034.70v-4.30M474.15 737.00v4.30M494.34 1034.70v-4.30M494.34 737.00v4.30M510.83 1034.70v-4.30M510.83 737.00v4.30M524.78 1034.70v-4.30M524.78 737.00v4.30M536.86 1034.70v-4.30M536.86 737.00v4.30M547.52 1034.70v-4.30M547.52 737.00v4.30M557.05 1034.70v-8.30M557.05 737.00v8.30M619.76 1034.70v-4.30M619.76 737.00v4.30M656.45 1034.70v-4.30M656.45 737.00v4.30M682.47 1034.70v-4.30M682.47 737.00v4.30M702.66 1034.70v-4.30M702.66 737.00v4.30M719.16 1034.70v-4.30M719.16 737.00v4.30M733.11 1034.70v-4.30M733.11 737.00v4.30M745.19 1034.70v-4.30M745.19 737.00v4.30M755.84 1034.70v-4.30M755.84 737.00v4.30M765.38 1034.70v-8.30M765.38 737.00v8.30M828.09 1034.70v-4.30M828.09 737.00v4.30M864.77 1034.70v-4.30M864.77 737.00v4.30M890.80 1034.70v-4.30M890.80 737.00v4.30M910.99 1034.70v-4.30M910.99 737.00v4.30M927.48 1034.70v-4.30M927.48 737.00v4.30M941.43 1034.70v-4.30M941.43 737.00v4.30M953.51 1034.70v-4.30M953.51 737.00v4.30M964.17 1034.70v-4.30M964.17 737.00v4.30M140.40 960.28h8.3M973.70 960.28h-8.3M140.40 885.85h8.3M973.70 885.85h-8.3M140.40 811.42h8.3M973.70 811.42h-8.3" stroke="#4a4a4a" stroke-width="1" fill="none"/>
<text class="s k" x="132.6" y="1043.1" text-anchor="end" font-size="22">0</text>
<text class="s k" x="132.6" y="968.7" text-anchor="end" font-size="22">300</text>
<text class="s k" x="132.6" y="894.2" text-anchor="end" font-size="22">600</text>
<text class="s k" x="132.6" y="819.8" text-anchor="end" font-size="22">900</text>
<text class="s k" x="132.6" y="745.4" text-anchor="end" font-size="22">1200</text>
<text class="s k" x="124.2" y="1068.8" font-size="22">10<tspan font-size="17.6" dy="-11.5">1</tspan></text>
<text class="s k" x="332.5" y="1068.8" font-size="22">10<tspan font-size="17.6" dy="-11.5">2</tspan></text>
<text class="s k" x="540.9" y="1068.8" font-size="22">10<tspan font-size="17.6" dy="-11.5">3</tspan></text>
<text class="s k" x="749.2" y="1068.8" font-size="22">10<tspan font-size="17.6" dy="-11.5">4</tspan></text>
<text class="s k" x="957.5" y="1068.8" font-size="22">10<tspan font-size="17.6" dy="-11.5">5</tspan></text>
<text class="s k" x="565.5" y="1089.7" text-anchor="middle" font-size="22.1">Frequency (<tspan font-style="italic">Hz</tspan>)</text>
<text class="s k" transform="translate(85.8 1050.6) rotate(-90)" font-size="22.3">Power Spectral Densities (<tspan font-style="italic">W/Hz</tspan>)</text>
<circle cx="570.9" cy="857.3" r="3.9" fill="#d80000"/>
<text class="s r" x="583.4" y="859.3" font-size="22" word-spacing="1.1">1172 <tspan font-style="italic">Hz</tspan></text>
<text class="L" transform="translate(0.77 724.7) scale(0.912 1)" font-size="43.5">C</text>
<path d="M158.09 1412.80V1395.86M220.81 1412.80V1412.06M257.49 1412.80V1402.55M283.52 1412.80V1407.84M303.71 1412.80V1399.04M320.20 1412.80V1389.87M334.15 1412.80V1401.52M346.23 1412.80V1148.49M356.89 1412.80V1247.65M366.42 1412.80V1409.99M375.04 1412.80V1375.41M382.91 1412.80V1386.69M390.16 1412.80V1412.43M396.86 1412.80V1390.24M403.10 1412.80V1409.62M408.94 1412.80V1409.62M414.43 1412.80V1381.03M419.60 1412.80V1384.58M424.49 1412.80V1410.69M429.13 1412.80V1408.92M433.54 1412.80V1405.22M437.75 1412.80V1407.62M441.77 1412.80V1410.69M445.63 1412.80V1392.53M449.32 1412.80V1368.41M452.87 1412.80V1387.09M456.28 1412.80V1409.47M459.57 1412.80V1410.69M462.75 1412.80V1412.06M465.81 1412.80V1401.00M468.78 1412.80V1404.66M471.65 1412.80V1399.19M474.44 1412.80V1385.58M477.14 1412.80V1412.25M479.76 1412.80V1412.06M482.31 1412.80V1404.03M484.79 1412.80V1405.22M487.20 1412.80V1407.62M489.55 1412.80V1404.03M491.84 1412.80V1412.06M494.08 1412.80V1404.03M496.26 1412.80V1404.03M498.39 1412.80V1410.58M500.47 1412.80V1410.21M502.50 1412.80V1410.21M504.49 1412.80V1412.06M506.43 1412.80V1408.73M508.34 1412.80V1407.99M510.20 1412.80V1391.35M512.03 1412.80V1395.56M513.82 1412.80V1406.88M515.58 1412.80V1407.62M517.30 1412.80V1412.06M518.99 1412.80V1412.06M520.65 1412.80V1411.69M522.28 1412.80V1412.06M523.89 1412.80V1405.22M525.46 1412.80V1411.69M527.01 1412.80V1407.52M528.53 1412.80V1408.20M530.02 1412.80V1411.27M531.49 1412.80V1409.26M532.94 1412.80V1410.63M534.37 1412.80V1410.15M535.77 1412.80V1403.55M537.15 1412.80V1409.70M538.51 1412.80V1403.55M539.85 1412.80V1411.18M541.17 1412.80V1410.97M542.47 1412.80V1411.79M543.76 1412.80V1412.43M545.02 1412.80V1406.14M546.27 1412.80V1410.06M547.50 1412.80V1409.96M548.72 1412.80V1409.20M549.91 1412.80V1411.00M551.10 1412.80V1409.17M552.26 1412.80V1408.32M553.42 1412.80V1411.48M554.55 1412.80V1402.22M555.68 1412.80V1411.53M556.79 1412.80V1410.66M557.88 1412.80V1410.50M558.97 1412.80V1408.45M560.04 1412.80V1406.72M561.10 1412.80V1406.20M562.14 1412.80V1408.38M563.18 1412.80V1407.46M564.20 1412.80V1401.70M565.21 1412.80V1408.13M566.21 1412.80V1410.23M567.20 1412.80V1408.90M568.18 1412.80V1412.08M569.14 1412.80V1411.04M570.10 1412.80V1410.09M571.05 1412.80V1410.53M571.99 1412.80V1410.00M572.92 1412.80V1407.80M573.83 1412.80V1397.08M574.74 1412.80V1406.97M575.64 1412.80V1406.57M576.53 1412.80V1407.37M577.42 1412.80V1401.00M578.29 1412.80V1409.22M579.16 1412.80V1409.79M580.01 1412.80V1411.50M580.86 1412.80V1410.83M581.71 1412.80V1408.47M582.54 1412.80V1406.29M583.37 1412.80V1407.93M584.18 1412.80V1406.62M585.00 1412.80V1406.86M585.80 1412.80V1410.72M586.60 1412.80V1399.48M587.39 1412.80V1412.10M588.17 1412.80V1411.44M588.95 1412.80V1410.69M589.72 1412.80V1407.34M590.48 1412.80V1407.94M591.24 1412.80V1406.29M591.99 1412.80V1410.77M592.73 1412.80V1409.34M593.47 1412.80V1408.51M594.21 1412.80V1408.95M594.93 1412.80V1410.23M595.65 1412.80V1410.41M596.37 1412.80V1410.41M597.08 1412.80V1409.20M597.78 1412.80V1411.07M598.48 1412.80V1401.70M599.17 1412.80V1407.79M599.86 1412.80V1407.07M600.54 1412.80V1407.51M601.22 1412.80V1410.24M601.89 1412.80V1412.09M602.56 1412.80V1411.69M603.23 1412.80V1409.55M603.88 1412.80V1409.66M604.54 1412.80V1411.76M605.19 1412.80V1412.38M606.47 1412.80V1412.26M607.10 1412.80V1412.07M607.73 1412.80V1404.66M608.36 1412.80V1411.64M608.98 1412.80V1411.98M609.60 1412.80V1412.22M610.21 1412.80V1412.43M611.43 1412.80V1412.34M612.03 1412.80V1412.05M612.63 1412.80V1406.88M613.22 1412.80V1410.27M613.81 1412.80V1411.60M614.39 1412.80V1408.61M614.98 1412.80V1411.51M615.55 1412.80V1411.34M616.13 1412.80V1412.31M617.27 1412.80V1412.38M617.83 1412.80V1412.05M618.39 1412.80V1409.12M618.95 1412.80V1407.73M619.50 1412.80V1408.35M620.05 1412.80V1408.50M620.60 1412.80V1411.11M621.14 1412.80V1411.80M621.68 1412.80V1411.81M622.22 1412.80V1411.83M622.75 1412.80V1409.21M623.28 1412.80V1410.67M623.81 1412.80V1409.94M624.33 1412.80V1410.96M624.86 1412.80V1412.21M625.37 1412.80V1412.39M625.89 1412.80V1412.44M626.40 1412.80V1411.97M626.91 1412.80V1411.38M627.42 1412.80V1410.51M627.92 1412.80V1406.14M628.42 1412.80V1412.16M628.92 1412.80V1411.86M629.42 1412.80V1412.21M629.91 1412.80V1412.23M630.40 1412.80V1412.32M630.89 1412.80V1411.55M631.37 1412.80V1410.75M631.86 1412.80V1408.78M632.34 1412.80V1410.27M632.81 1412.80V1409.55M633.29 1412.80V1409.29M633.76 1412.80V1410.12M634.23 1412.80V1411.49M634.70 1412.80V1409.77M635.16 1412.80V1409.54M635.63 1412.80V1409.80M636.09 1412.80V1410.39M636.55 1412.80V1410.75M637.00 1412.80V1411.83M637.91 1412.80V1411.71M638.36 1412.80V1411.82M638.80 1412.80V1411.91M639.25 1412.80V1410.16M639.69 1412.80V1409.47M640.13 1412.80V1412.37M640.57 1412.80V1411.86M641.00 1412.80V1410.86M641.44 1412.80V1409.79M641.87 1412.80V1412.21M642.30 1412.80V1411.75M642.73 1412.80V1412.18M643.15 1412.80V1411.69M643.58 1412.80V1412.02M644.00 1412.80V1409.80M644.42 1412.80V1410.68M644.84 1412.80V1410.36M645.25 1412.80V1412.43M645.67 1412.80V1412.36M646.08 1412.80V1412.30M646.49 1412.80V1412.23M646.90 1412.80V1411.57M647.30 1412.80V1411.39M647.71 1412.80V1411.97M648.11 1412.80V1410.81M648.51 1412.80V1411.94M648.91 1412.80V1411.69M649.31 1412.80V1412.28M649.71 1412.80V1412.29M650.10 1412.80V1412.04M650.49 1412.80V1412.31M650.88 1412.80V1412.21M651.27 1412.80V1411.54M651.66 1412.80V1411.88M652.05 1412.80V1411.46M652.43 1412.80V1411.46M652.81 1412.80V1411.82M653.19 1412.80V1409.10M653.57 1412.80V1412.22M653.95 1412.80V1411.32M654.33 1412.80V1411.54M654.70 1412.80V1411.27M655.07 1412.80V1410.51M655.45 1412.80V1410.50M655.82 1412.80V1411.40M656.18 1412.80V1412.37M656.55 1412.80V1412.02M656.92 1412.80V1411.33M657.28 1412.80V1412.12M657.64 1412.80V1411.37M658.01 1412.80V1410.50M658.36 1412.80V1412.33M658.72 1412.80V1412.04M659.08 1412.80V1409.10M659.44 1412.80V1411.29M659.79 1412.80V1410.42M660.14 1412.80V1410.55M660.49 1412.80V1411.43M660.84 1412.80V1412.36M661.19 1412.80V1411.56M661.54 1412.80V1411.22M661.89 1412.80V1411.63M662.23 1412.80V1412.00M662.57 1412.80V1411.40M662.92 1412.80V1411.50M663.26 1412.80V1411.79M663.60 1412.80V1411.90M663.93 1412.80V1412.41M664.27 1412.80V1411.06M664.61 1412.80V1411.39M664.94 1412.80V1411.92M665.27 1412.80V1412.16M665.61 1412.80V1412.11M667.25 1412.80V1412.27M667.57 1412.80V1411.56M667.90 1412.80V1410.95M668.22 1412.80V1411.60M668.54 1412.80V1412.03M668.86 1412.80V1411.35M669.18 1412.80V1412.22M669.82 1412.80V1411.94M671.07 1412.80V1412.25M671.38 1412.80V1412.19M671.69 1412.80V1411.68M672.00 1412.80V1411.90M672.31 1412.80V1412.11M672.62 1412.80V1412.29M673.53 1412.80V1412.35M676.52 1412.80V1412.31M676.81 1412.80V1411.94M677.11 1412.80V1412.14M679.41 1412.80V1412.21M679.70 1412.80V1412.04M679.98 1412.80V1411.82M680.26 1412.80V1411.92M680.54 1412.80V1412.18M680.82 1412.80V1412.15M681.10 1412.80V1412.00M681.38 1412.80V1412.42M681.66 1412.80V1412.09M681.94 1412.80V1412.11M682.21 1412.80V1412.27M682.49 1412.80V1412.16M685.99 1412.80V1412.24M686.26 1412.80V1412.27M686.52 1412.80V1412.17M686.78 1412.80V1412.09M687.05 1412.80V1412.10M687.31 1412.80V1412.16M687.57 1412.80V1412.36M687.83 1412.80V1412.45M688.09 1412.80V1412.27M688.34 1412.80V1412.37M689.11 1412.80V1412.27M689.37 1412.80V1412.24M689.62 1412.80V1412.39M690.63 1412.80V1412.35M690.89 1412.80V1412.37M693.11 1412.80V1412.42M694.33 1412.80V1412.33M694.57 1412.80V1412.28M694.81 1412.80V1412.29M695.05 1412.80V1412.30M695.29 1412.80V1412.32M695.53 1412.80V1412.30M696.00 1412.80V1412.45M697.41 1412.80V1412.44M697.64 1412.80V1412.39M698.57 1412.80V1412.44M699.03 1412.80V1412.40" stroke="#111" stroke-width="1.6" fill="none"/>
<rect x="140.4" y="1113.2" width="833.3" height="299.6" fill="none" stroke="#4a4a4a" stroke-width="1"/>
<path d="M203.11 1412.80v-4.30M203.11 1113.20v4.30M239.80 1412.80v-4.30M239.80 1113.20v4.30M265.82 1412.80v-4.30M265.82 1113.20v4.30M286.01 1412.80v-4.30M286.01 1113.20v4.30M302.51 1412.80v-4.30M302.51 1113.20v4.30M316.46 1412.80v-4.30M316.46 1113.20v4.30M328.54 1412.80v-4.30M328.54 1113.20v4.30M339.19 1412.80v-4.30M339.19 1113.20v4.30M348.73 1412.80v-8.30M348.73 1113.20v8.30M411.44 1412.80v-4.30M411.44 1113.20v4.30M448.12 1412.80v-4.30M448.12 1113.20v4.30M474.15 1412.80v-4.30M474.15 1113.20v4.30M494.34 1412.80v-4.30M494.34 1113.20v4.30M510.83 1412.80v-4.30M510.83 1113.20v4.30M524.78 1412.80v-4.30M524.78 1113.20v4.30M536.86 1412.80v-4.30M536.86 1113.20v4.30M547.52 1412.80v-4.30M547.52 1113.20v4.30M557.05 1412.80v-8.30M557.05 1113.20v8.30M619.76 1412.80v-4.30M619.76 1113.20v4.30M656.45 1412.80v-4.30M656.45 1113.20v4.30M682.47 1412.80v-4.30M682.47 1113.20v4.30M702.66 1412.80v-4.30M702.66 1113.20v4.30M719.16 1412.80v-4.30M719.16 1113.20v4.30M733.11 1412.80v-4.30M733.11 1113.20v4.30M745.19 1412.80v-4.30M745.19 1113.20v4.30M755.84 1412.80v-4.30M755.84 1113.20v4.30M765.38 1412.80v-8.30M765.38 1113.20v8.30M828.09 1412.80v-4.30M828.09 1113.20v4.30M864.77 1412.80v-4.30M864.77 1113.20v4.30M890.80 1412.80v-4.30M890.80 1113.20v4.30M910.99 1412.80v-4.30M910.99 1113.20v4.30M927.48 1412.80v-4.30M927.48 1113.20v4.30M941.43 1412.80v-4.30M941.43 1113.20v4.30M953.51 1412.80v-4.30M953.51 1113.20v4.30M964.17 1412.80v-4.30M964.17 1113.20v4.30M140.40 1312.93h8.3M973.70 1312.93h-8.3M140.40 1213.07h8.3M973.70 1213.07h-8.3" stroke="#4a4a4a" stroke-width="1" fill="none"/>
<text class="s k" x="132.6" y="1421.2" text-anchor="end" font-size="22">0</text>
<text class="s k" x="132.6" y="1321.3" text-anchor="end" font-size="22">2700</text>
<text class="s k" x="132.6" y="1221.5" text-anchor="end" font-size="22">5400</text>
<text class="s k" x="132.6" y="1121.6" text-anchor="end" font-size="22">8100</text>
<text class="s k" x="124.2" y="1446.9" font-size="22">10<tspan font-size="17.6" dy="-11.5">1</tspan></text>
<text class="s k" x="332.5" y="1446.9" font-size="22">10<tspan font-size="17.6" dy="-11.5">2</tspan></text>
<text class="s k" x="540.9" y="1446.9" font-size="22">10<tspan font-size="17.6" dy="-11.5">3</tspan></text>
<text class="s k" x="749.2" y="1446.9" font-size="22">10<tspan font-size="17.6" dy="-11.5">4</tspan></text>
<text class="s k" x="957.5" y="1446.9" font-size="22">10<tspan font-size="17.6" dy="-11.5">5</tspan></text>
<text class="s k" x="565.5" y="1466.1" text-anchor="middle" font-size="22.1">Frequency (<tspan font-style="italic">Hz</tspan>)</text>
<text class="s k" transform="translate(85.8 1428.7) rotate(-90)" font-size="22.3">Power Spectral Densities (<tspan font-style="italic">W/Hz</tspan>)</text>
<circle cx="346.2" cy="1148.3" r="3.9" fill="#d80000"/>
<text class="s r" x="354.6" y="1152.5" font-size="22" word-spacing="1.1">97.6 <tspan font-style="italic">Hz</tspan></text>
<circle cx="356.4" cy="1247.6" r="3.9" fill="#d80000"/>
<text class="s r" x="366.0" y="1245.4" font-size="22" word-spacing="1.1">109.9 <tspan font-style="italic">Hz</tspan></text>
<text class="L" transform="translate(-0.31 1093.7) scale(0.942 1)" font-size="43.0">D</text>
</svg>
</body>
</html>
